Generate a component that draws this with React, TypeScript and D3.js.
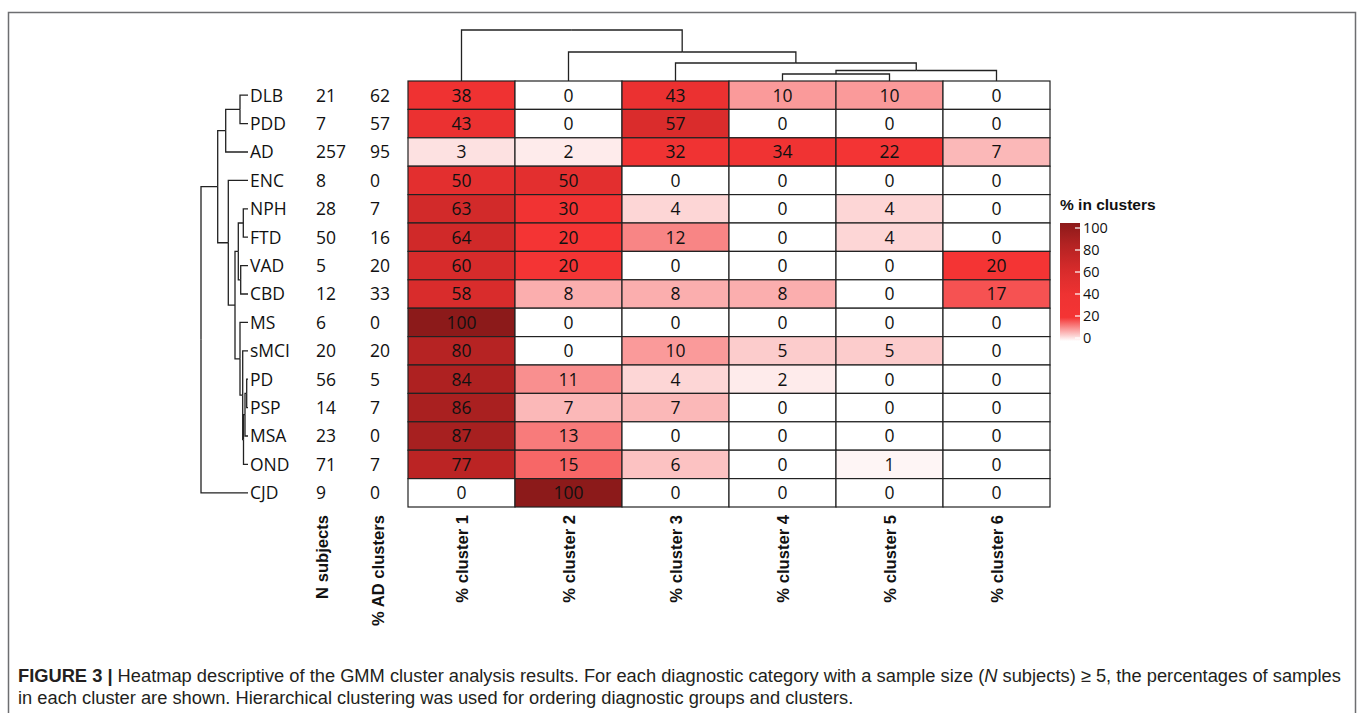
import React from "react";
import * as d3 from "d3";

const rows = ["DLB", "PDD", "AD", "ENC", "NPH", "FTD", "VAD", "CBD", "MS", "sMCI", "PD", "PSP", "MSA", "OND", "CJD"];
const nSubjects = [21, 7, 257, 8, 28, 50, 5, 12, 6, 20, 56, 14, 23, 71, 9];
const pctAD = [62, 57, 95, 0, 7, 16, 20, 33, 0, 20, 5, 7, 0, 7, 0];
const clusters = ["% cluster 1", "% cluster 2", "% cluster 3", "% cluster 4", "% cluster 5", "% cluster 6"];
const values = [
  [38, 0, 43, 10, 10, 0],
  [43, 0, 57, 0, 0, 0],
  [3, 2, 32, 34, 22, 7],
  [50, 50, 0, 0, 0, 0],
  [63, 30, 4, 0, 4, 0],
  [64, 20, 12, 0, 4, 0],
  [60, 20, 0, 0, 0, 20],
  [58, 8, 8, 8, 0, 17],
  [100, 0, 0, 0, 0, 0],
  [80, 0, 10, 5, 5, 0],
  [84, 11, 4, 2, 0, 0],
  [86, 7, 7, 0, 0, 0],
  [87, 13, 0, 0, 0, 0],
  [77, 15, 6, 0, 1, 0],
  [0, 100, 0, 0, 0, 0],
];
const legendTicks = [0, 20, 40, 60, 80, 100];

type Node = { name?: string; h?: number; children?: Node[] };
const leaf = (name: string): Node => ({ name, h: 0 });

// row dendrogram (merge heights)
const rowTree: Node = {
  h: 47,
  children: [
    {
      h: 30.3,
      children: [
        { h: 22.3, children: [{ h: 8, children: [leaf("DLB"), leaf("PDD")] }, leaf("AD")] },
        {
          h: 19.7,
          children: [
            leaf("ENC"),
            {
              h: 13,
              children: [
                {
                  h: 9.7,
                  children: [
                    { h: 4.7, children: [leaf("NPH"), leaf("FTD")] },
                    { h: 7.3, children: [leaf("VAD"), leaf("CBD")] },
                  ],
                },
                {
                  h: 8,
                  children: [
                    leaf("MS"),
                    {
                      h: 5.3,
                      children: [
                        leaf("sMCI"),
                        {
                          h: 4.5,
                          children: [
                            { h: 3, children: [{ h: 1.3, children: [leaf("PD"), leaf("PSP")] }, leaf("MSA")] },
                            leaf("OND"),
                          ],
                        },
                      ],
                    },
                  ],
                },
              ],
            },
          ],
        },
      ],
    },
    leaf("CJD"),
  ],
};

const colTree: Node = {
  h: 51,
  children: [
    leaf("% cluster 1"),
    {
      h: 29,
      children: [
        leaf("% cluster 2"),
        {
          h: 18,
          children: [
            leaf("% cluster 3"),
            { h: 10.5, children: [{ h: 7, children: [leaf("% cluster 4"), leaf("% cluster 5")] }, leaf("% cluster 6")] },
          ],
        },
      ],
    },
  ],
};

const gridLeft = 408, gridRight = 1050, gridTop = 81, gridBottom = 507;

const x = d3.scaleBand<string>().domain(clusters).range([gridLeft, gridRight]);
const y = d3.scaleBand<string>().domain(rows).range([gridTop, gridBottom]);
const color = d3
  .scaleLinear<string>()
  .domain([0, 20, 40, 60, 80, 100])
  .range(["#ffffff", "#f43434", "#ee3232", "#d72b2b", "#b62323", "#8c1a1a"]);

// dendrogram elbows: pos = leaf position along the axis, dist = merge height
function elbows(tree: Node, leafPos: (n: string) => number, distPos: (h: number) => number, horizontal: boolean) {
  const root = d3.hierarchy(tree);
  const pos = new Map<any, number>();
  root.eachAfter((n) => {
    if (!n.children) pos.set(n, leafPos(n.data.name!));
    else pos.set(n, d3.mean(n.children, (c) => pos.get(c))!);
  });
  const paths: string[] = [];
  root.each((n) => {
    if (!n.children) return;
    const d = distPos(n.data.h!);
    n.children.forEach((c) => {
      const p = pos.get(c)!;
      const cd = distPos(c.data.h!);
      const pp = pos.get(n)!;
      paths.push(horizontal ? `M${d},${pp}V${p}H${cd}` : `M${pp},${d}H${p}V${cd}`);
    });
  });
  return paths;
}

const rowDist = d3.scaleLinear().domain([0, 47]).range([248, 201]);
const colDist = d3.scaleLinear().domain([0, 51]).range([gridTop, 30]);
const rowPaths = elbows(rowTree, (n) => y(n)! + y.bandwidth() / 2, rowDist, true);
const colPaths = elbows(colTree, (n) => x(n)! + x.bandwidth() / 2, colDist, false);

const legendY = d3.scaleLinear().domain([0, 100]).range([338, 228]);

const sans = "'Open Sans', 'Noto Sans', sans-serif";
const bold = "'Liberation Sans', Arial, sans-serif";

export default function App() {
  return (
    <svg width={1358} height={713} style={{ position: "absolute", left: 0, top: 0 }}>
      <defs>
        <linearGradient id="lg" x1="0" y1="1" x2="0" y2="0">
          {d3.range(0, 101, 5).map((v) => (
            <stop key={v} offset={`${v}%`} stopColor={color(v)} />
          ))}
        </linearGradient>
      </defs>
      <rect x={0} y={0} width={1358} height={713} fill="#fff" />
      <path d="M8.5,720V12.5H1355.5V720" fill="none" stroke="#6d6e71" strokeWidth={1.5} />

      {/* dendrograms */}
      <g fill="none" stroke="#222" strokeWidth={1.3}>
        {rowPaths.map((d, i) => (
          <path key={"r" + i} d={d} />
        ))}
        {colPaths.map((d, i) => (
          <path key={"c" + i} d={d} />
        ))}
      </g>

      {/* row labels and side columns */}
      <g fontFamily={sans} fontSize={17.5} fill="#111">
        {rows.map((r, i) => {
          const cy = y(r)! + y.bandwidth() / 2;
          return (
            <g key={r}>
              <text x={250} y={cy} dy="0.36em">{r}</text>
              <text x={316} y={cy} dy="0.36em">{nSubjects[i]}</text>
              <text x={370} y={cy} dy="0.36em">{pctAD[i]}</text>
            </g>
          );
        })}
      </g>

      {/* heatmap cells */}
      <g>
        {values.map((row, i) =>
          row.map((v, j) => (
            <g key={i + "-" + j}>
              <rect
                x={x(clusters[j])}
                y={y(rows[i])}
                width={x.bandwidth()}
                height={y.bandwidth()}
                fill={color(v)}
                stroke="#222"
                strokeWidth={1.2}
              />
              <text
                x={x(clusters[j])! + x.bandwidth() / 2}
                y={y(rows[i])! + y.bandwidth() / 2}
                dy="0.36em"
                textAnchor="middle"
                fontFamily={sans}
                fontSize={17.5}
                fill="#111"
              >
                {v}
              </text>
            </g>
          ))
        )}
      </g>

      {/* column labels */}
      <g fontFamily={bold} fontWeight="bold" fontSize={16.6} fill="#111" textAnchor="end">
        {clusters.map((c) => (
          <text key={c} transform={`translate(${x(c)! + x.bandwidth() / 2 + 6},515) rotate(-90)`}>{c}</text>
        ))}
        <text transform="translate(328,515) rotate(-90)">N subjects</text>
        <text transform="translate(384,515) rotate(-90)">% AD clusters</text>
      </g>

      {/* legend */}
      <g>
        <text x={1060} y={210} fontFamily={bold} fontWeight="bold" fontSize={15.5} fill="#111">% in clusters</text>
        <rect x={1060} y={223} width={20} height={118} fill="url(#lg)" />
        {legendTicks.map((t) => (
          <g key={t}>
            <line x1={1075} x2={1080} y1={legendY(t)} y2={legendY(t)} stroke="#fff" strokeWidth={1.2} />
            <text x={1083} y={legendY(t)} dy="0.36em" fontFamily={sans} fontSize={14.5} fill="#111">{t}</text>
          </g>
        ))}
      </g>

      {/* caption */}
      <g fontFamily="'Liberation Sans', Arial, sans-serif" fontSize={18.3} fill="#231f20">
        <text x={18} y={682}>
          <tspan fontWeight="bold">FIGURE 3 | </tspan>
          Heatmap descriptive of the GMM cluster analysis results. For each diagnostic category with a sample size (
          <tspan fontStyle="italic">N</tspan> subjects) ≥ 5, the percentages of samples
        </text>
        <text x={18} y={704}>
          in each cluster are shown. Hierarchical clustering was used for ordering diagnostic groups and clusters.
        </text>
      </g>
    </svg>
  );
}
